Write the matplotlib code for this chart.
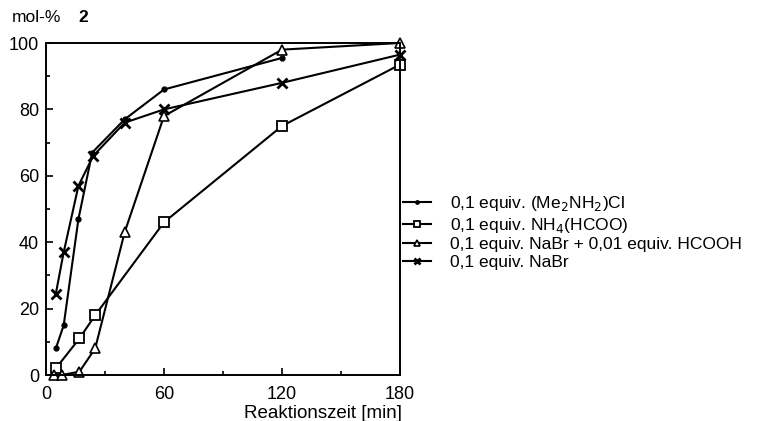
import numpy as np
import matplotlib
matplotlib.use("Agg")
import matplotlib.pyplot as plt
from matplotlib.ticker import MultipleLocator

plt.rcParams['font.family'] = ['Liberation Sans', 'DejaVu Sans']

# Reaktionszeit [min] and mol-% 2
t_me2 = [5, 9, 16.5, 23.5, 40, 60, 120]
y_me2 = [8, 15, 47, 67, 77, 86, 95.5]

t_nh4 = [5, 17, 25, 60, 120, 180]
y_nh4 = [2, 11, 18, 46, 75, 93.5]

t_nabr_h = [4, 8, 17, 25, 40, 60, 120, 180]
y_nabr_h = [0, 0, 1, 8, 43, 78, 98, 100]

t_nabr = [5, 9, 16.5, 24, 40, 60, 120, 180]
y_nabr = [24.5, 37, 57, 66, 76, 80, 88, 96.5]

labels = ['0,1 equiv. (Me$_2$NH$_2$)Cl',
          '0,1 equiv. NH$_4$(HCOO)',
          '0,1 equiv. NaBr + 0,01 equiv. HCOOH',
          '0,1 equiv. NaBr']

fig = plt.figure(figsize=(7.62, 4.21), dpi=100)
ax = fig.add_axes([46/762, 46/421, 354/762, 332/421])

kw = dict(color='black', lw=1.5, clip_on=False)
ax.plot(t_me2, y_me2, marker='o', ms=3.5, label=labels[0], **kw)
ax.plot(t_nh4, y_nh4, marker='s', ms=7, mfc='white', mew=1.3, label=labels[1], **kw)
ax.plot(t_nabr_h, y_nabr_h, marker='^', ms=6.5, mfc='white', mew=1.2, label=labels[2], **kw)
ax.plot(t_nabr, y_nabr, marker='x', ms=7, mew=2, label=labels[3], **kw)

ax.set_xlim(0, 180)
ax.set_ylim(0, 100)
ax.xaxis.set_major_locator(MultipleLocator(60))
ax.xaxis.set_minor_locator(MultipleLocator(30))
ax.yaxis.set_major_locator(MultipleLocator(20))
ax.yaxis.set_minor_locator(MultipleLocator(10))
ax.tick_params(which='both', direction='in', labelsize=13, width=1.2)
ax.tick_params(which='major', length=5)
ax.tick_params(which='minor', length=3)
ax.tick_params(axis='x', pad=8)
ax.tick_params(axis='y', pad=5)
for s in ax.spines.values():
    s.set_linewidth(1.4)

fig.text(402/762, 1 - 413/421, 'Reaktionszeit [min]', fontsize=13.5,
         ha='right', va='center')
fig.text(12/762, 1 - 18/421, 'mol-%', fontsize=12.5, va='center')
fig.text(78/762, 1 - 18/421, '2', fontsize=12.5, fontweight='bold', va='center')

ax.legend(loc='center left', bbox_to_anchor=(1.0, 0.43), frameon=False,
          fontsize=12.5, handlelength=1.6, handletextpad=1.1, labelspacing=0.14,
          borderaxespad=0.0, borderpad=0.2, markerscale=0.7)

fig.savefig('out.png', dpi=100)
